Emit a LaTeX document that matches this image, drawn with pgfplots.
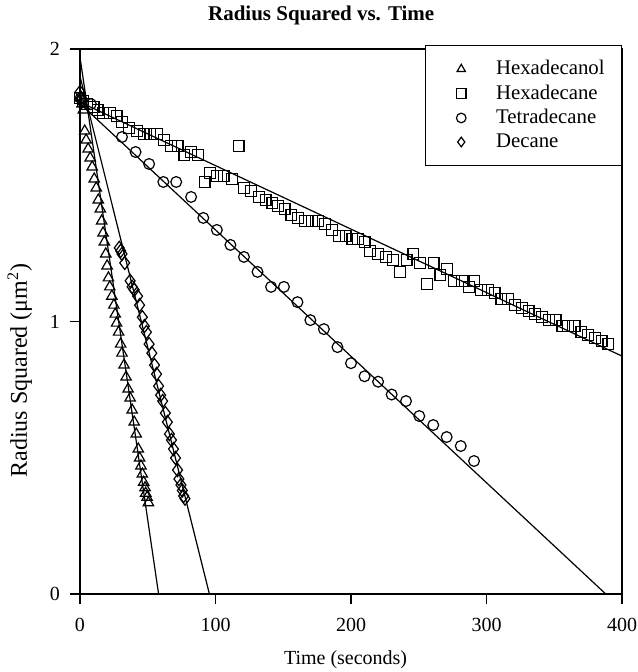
\documentclass[border=0pt]{standalone}
\usepackage{fontspec}
\setmainfont{Liberation Serif}
\usepackage{pgfplots}
\pgfplotsset{compat=1.18}

\pgfplotstableread{
t y
0.5 1.820
1.5 1.798
2.5 1.776
3.5 1.699
4.5 1.666
6 1.633
7.5 1.600
9 1.567
10.5 1.523
12 1.490
13.5 1.446
15 1.413
16 1.369
17 1.325
18 1.292
19 1.248
20 1.204
21 1.160
22 1.127
23.5 1.093
25 1.060
26 1.027
27 0.994
28.5 0.961
30 0.917
31 0.884
32.5 0.840
34 0.796
35.5 0.752
37 0.719
38.5 0.675
40 0.631
41.5 0.587
43 0.532
44 0.499
45 0.470
46 0.440
47 0.410
48 0.390
48.5 0.370
49.5 0.355
50.5 0.335
}\hexadecanol

\pgfplotstableread{
t y
0 1.820
2 1.809
5 1.798
10 1.787
13 1.776
17 1.765
22 1.765
27 1.754
31 1.732
36 1.710
42 1.699
47 1.688
52 1.688
57 1.688
62 1.666
67 1.644
72 1.644
77 1.611
82 1.622
87 1.611
92 1.512
96 1.545
101 1.534
106 1.534
112 1.523
117 1.644
121 1.490
126 1.479
132 1.457
137 1.446
142 1.435
146 1.424
151 1.413
156 1.391
161 1.380
166 1.369
171 1.369
176 1.369
181 1.358
186 1.336
191 1.314
196 1.314
201 1.303
205 1.303
210 1.292
214 1.259
220 1.248
226 1.237
231 1.226
236 1.182
241 1.226
246 1.248
251 1.215
256 1.138
261 1.215
266 1.171
271 1.193
276 1.149
282 1.149
287 1.127
291 1.149
296 1.116
301 1.116
306 1.105
311 1.083
316 1.083
321 1.060
326 1.049
331 1.038
336 1.027
341 1.016
346 1.005
351 1.005
356 0.983
360 0.983
365 0.983
370 0.961
375 0.950
380 0.939
385 0.928
390 0.917
}\hexadecane

\pgfplotstableread{
t y
0.5 1.820
8 1.798
31 1.677
41 1.622
51 1.578
61.5 1.512
71 1.512
82 1.457
91 1.380
101 1.336
111 1.281
121 1.237
131 1.182
141 1.127
150.5 1.127
160.5 1.071
170 1.005
180 0.972
190 0.906
200 0.847
210 0.799
220 0.779
230 0.732
240.6 0.708
250.4 0.653
260.7 0.620
270.6 0.576
281 0.543
290.8 0.488
}\tetradecane

\pgfplotstableread{
t y
0 1.842
1 1.820
2 1.809
29 1.270
30 1.259
31 1.248
33 1.215
37 1.149
38.5 1.127
40 1.116
42.5 1.093
44 1.060
46 1.016
47.5 0.983
49 0.961
51 0.917
53 0.884
55 0.840
56.5 0.807
58 0.763
59.5 0.730
61 0.708
63 0.664
64.5 0.631
66 0.587
67.5 0.565
69 0.532
70.5 0.499
72 0.455
73 0.422
74.5 0.400
75.5 0.380
76.5 0.360
77.5 0.350
}\decane

\begin{document}
\begin{tikzpicture}
\begin{axis}[name=ax,
  width=271pt, height=272.5pt, scale only axis,
  xmin=0, xmax=400, ymin=0, ymax=2,
  xtick={0,100,200,300,400},
  ytick={0,1,2},
  tick align=outside, xtick pos=bottom, ytick pos=left,
  major tick length=5pt,
  tick style={black, line width=0.6pt},
  axis line style={line width=0.7pt},
  /pgf/number format/assume math mode=true,
  ticklabel style={font=\fontsize{10}{12}\selectfont},
  xticklabel style={yshift=-3.5pt},
  yticklabel style={xshift=-1.5pt},
  title={\textbf{Radius Squared vs. Time}},
  title style={at={(axis description cs:0.445,1)}, anchor=base, yshift=8pt, font=\fontsize{10.5}{12}\selectfont},
  xlabel={Time (seconds)},
  xlabel style={at={(axis description cs:0.49,-0.121)}, anchor=center, font=\fontsize{10}{12}\selectfont},
  ylabel={Radius Squared (μm\textsuperscript{2})},
  ylabel style={at={(axis description cs:-0.111,0.41)}, anchor=center, font=\fontsize{12}{14}\selectfont},
  clip=false,
  legend cell align=left,
  legend image code/.code={\path (0pt,0pt); \draw[#1, mark size=2.4pt] plot coordinates {(11pt,0pt)};},
  legend style={at={(1,1)}, anchor=north east, yshift=2pt, draw=black, fill=white,
    font=\fontsize{10.4}{12}\selectfont, inner xsep=6.5pt, inner ysep=7pt,
    row sep=2.5pt, nodes={inner ysep=0.5pt},
    /tikz/every odd column/.append style={column sep=13pt}},
  every axis plot/.append style={black},
]
% fitted lines
\addplot[forget plot, line width=0.6pt] coordinates {(0,1.97) (58,0)};
\addplot[forget plot, line width=0.6pt] coordinates {(0,1.90) (95.5,0)};
\addplot[forget plot, line width=0.6pt] coordinates {(0,1.80) (388,0)};
\addplot[forget plot, line width=0.6pt] coordinates {(0,1.805) (400,0.873)};

\addplot[only marks, mark=triangle, mark size=3pt, mark options={line width=0.6pt}] table {\hexadecanol};
\addlegendentry{Hexadecanol}
\addplot[only marks, mark=square, mark size=2.7pt, mark options={line width=0.6pt}] table {\hexadecane};
\addlegendentry{Hexadecane}
\addplot[only marks, mark=o, mark size=2.7pt, mark options={line width=0.6pt}] table {\tetradecane};
\addlegendentry{Tetradecane}
\addplot[only marks, mark=diamond, mark size=3.3pt, mark options={line width=0.6pt}] table {\decane};
\addlegendentry{Decane}
\end{axis}
\pgfresetboundingbox
\path ([shift={(-40pt,-39pt)}]ax.south west) rectangle ([shift={(8pt,24.5pt)}]ax.north east);
\end{tikzpicture}
\end{document}
